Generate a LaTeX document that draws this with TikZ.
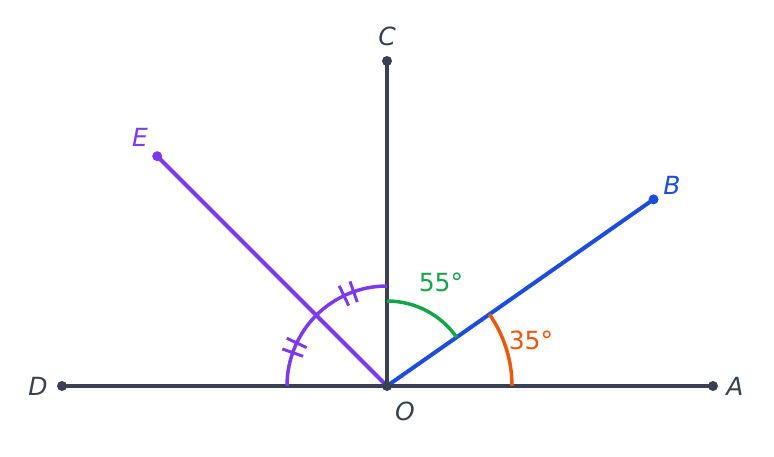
\documentclass[tikz,border=0pt]{standalone}
\usepackage{fontspec}
\setmainfont{DejaVu Sans}
\usetikzlibrary{calc}
\definecolor{ink}{HTML}{374151}
\definecolor{rayblue}{HTML}{1D4ED8}
\definecolor{raypurple}{HTML}{7C3AED}
\definecolor{arcgreen}{HTML}{16A34A}
\definecolor{arcorange}{HTML}{EA580C}
\begin{document}
\begin{tikzpicture}[x=1pt,y=1pt,
  dot/.style={circle,fill=#1,inner sep=0pt,minimum size=10pt},
  ray/.style={line width=4pt,#1},
  anglearc/.style={line width=3.5pt,#1},
  lbl/.style={font=\fontsize{25}{25}\selectfont\itshape,text=#1,inner sep=0pt},
  deg/.style={font=\fontsize{25}{25}\selectfont,text=#1,inner sep=0pt}]
\useasboundingbox (0,0) rectangle (774,456);
\coordinate (O) at (387,70);
\node[dot=ink] (A) at (713,70) {};
\node[dot=ink] (D) at (62,70) {};
\node[dot=ink] (C) at (387,395) {};
\node[dot=rayblue] (B) at ($(O)+(35:325.4)$) {};
\node[dot=raypurple] (E) at ($(O)+(135:325)$) {};
% rays
\draw[ray=ink] (D.center) -- (A.center);
\draw[ray=ink] (O) -- (C.center);
\draw[ray=raypurple] (O) -- (E.center);
\draw[ray=rayblue] (O) -- (B.center);
% arcs
\draw[anglearc=arcorange] ($(O)+(0:125)$) arc[start angle=0,end angle=35,radius=125];
\draw[anglearc=arcgreen] ($(O)+(35:85)$) arc[start angle=35,end angle=90,radius=85];
\draw[anglearc=raypurple] ($(O)+(90:100)$) arc[start angle=90,end angle=180,radius=100];
% ticks
\foreach \t in {109.5,115.5,154.5,160.5}{
  \draw[line width=3pt,raypurple] ($(O)+(\t:89)$) -- ($(O)+(\t:111)$);
}
\node[dot=ink] (Odot) at (O) {};
% labels
\node[lbl=ink] (lA) at (735,70) {A};
\node[lbl=ink] (lD) at (38,70) {D};
\node[lbl=ink] (lC) at (387,420) {C};
\node[lbl=ink] (lO) at (405,45) {O};
\node[lbl=rayblue] (lB) at (672,271) {B};
\node[lbl=raypurple] (lE) at (140,319) {E};
\node[deg=arcgreen] (l55) at (441,174) {55°};
\node[deg=arcorange] (l35) at (531,116) {35°};
\end{tikzpicture}
\end{document}
